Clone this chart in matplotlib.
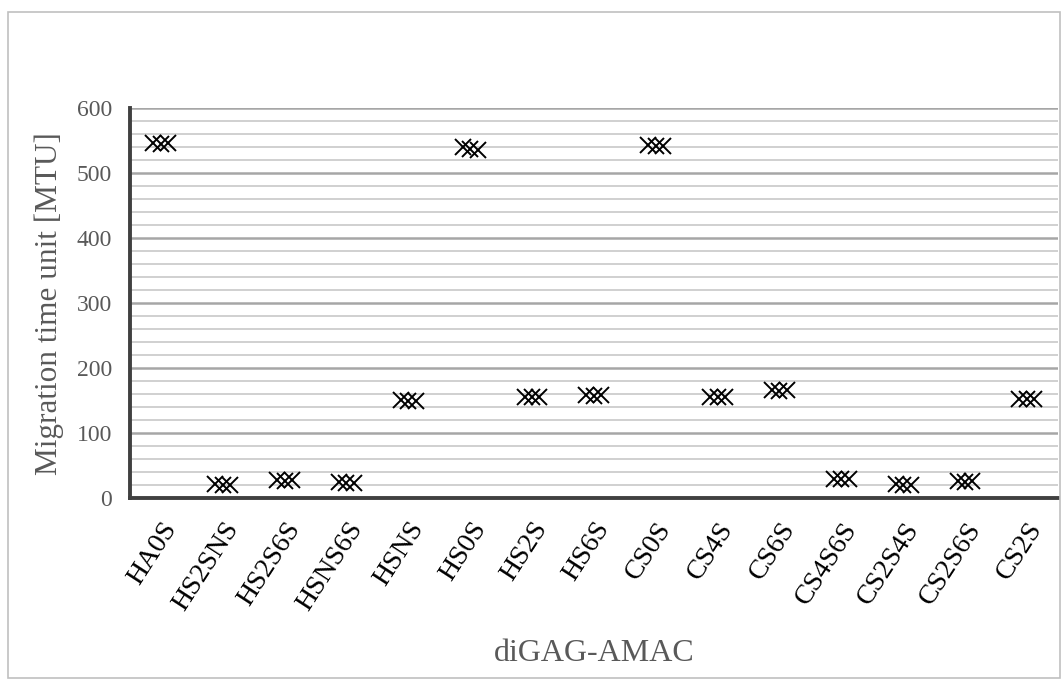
import matplotlib.pyplot as plt
from matplotlib.patches import Rectangle
from matplotlib.ticker import MultipleLocator

# three repeated runs per configuration
configs = ["HA0S", "HS2SNS", "HS2S6S", "HSNS6S", "HSNS", "HS0S", "HS2S", "HS6S",
           "CS0S", "CS4S", "CS6S", "CS4S6S", "CS2S4S", "CS2S6S", "CS2S"]
run1 = [546, 21, 27, 24, 151, 540, 156, 158, 543, 156, 166, 30, 21, 26, 153]
run2 = [545, 20, 26, 23, 150, 537, 155, 157, 542, 155, 165, 29, 20, 25, 152]
run3 = [546, 20, 27, 23, 150, 535, 155, 158, 542, 155, 166, 29, 20, 26, 153]

plt.rcParams['font.family'] = ['Liberation Serif', 'DejaVu Serif']
txt_color = "#595959"

fig = plt.figure(figsize=(10.62, 6.8), dpi=100)
ax = fig.add_axes([0.1224, 0.2676, 0.8736, 0.5734])

x = list(range(len(configs)))
for off, vals in zip([-0.12, 0.0, 0.12], [run1, run2, run3]):
    ax.plot([i + off for i in x], vals, linestyle="none", marker="x",
            markersize=11.5, markeredgewidth=1.4, color="black", zorder=3)

ax.set_xlim(-0.5, len(configs) - 0.5)
ax.set_ylim(0, 600)
ax.yaxis.set_major_locator(MultipleLocator(100))
ax.yaxis.set_minor_locator(MultipleLocator(20))
ax.grid(True, which="minor", axis="y", color="#d0d0d0", linewidth=1.4)
ax.grid(True, which="major", axis="y", color="#a6a6a6", linewidth=1.8)
ax.set_axisbelow(True)

ax.set_xticks(x)
ax.set_xticklabels(configs, rotation=57, ha="right", va="top",
                   rotation_mode="anchor", fontsize=20, color="black")
ax.tick_params(axis="x", length=0, pad=14)
ax.tick_params(axis="y", which="both", length=0, labelsize=17,
               labelcolor=txt_color, pad=13)

for s in ["top", "right"]:
    ax.spines[s].set_visible(False)
for s in ["left", "bottom"]:
    ax.spines[s].set_color("#404040")
    ax.spines[s].set_linewidth(2.8)

ax.set_ylabel("Migration time unit [MTU]", fontsize=22.5, color=txt_color, labelpad=9)
ax.set_xlabel("diGAG-AMAC", fontsize=23, color=txt_color, labelpad=17)

# light frame around the chart area
fig.patches.append(Rectangle((8 / 1062, 2 / 680), 1052 / 1062, 666 / 680,
                             transform=fig.transFigure, fill=False,
                             edgecolor="#c0c0c0", linewidth=1.2))

fig.savefig("out.png", dpi=100)
